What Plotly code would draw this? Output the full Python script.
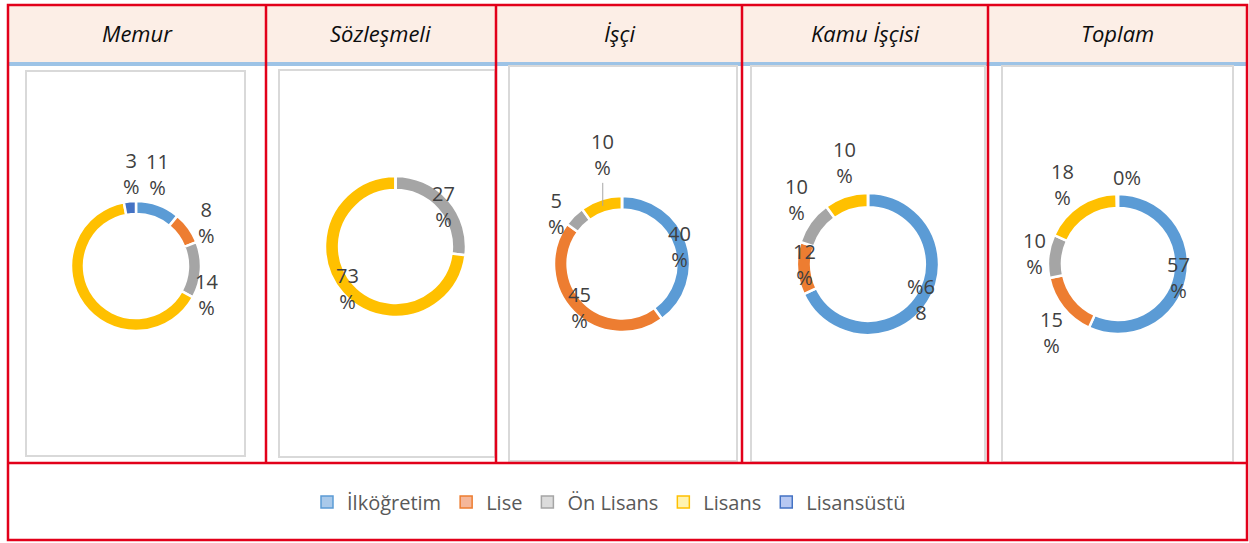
import math
import plotly.graph_objects as go

W, H = 1249, 543

# ---------------- data ----------------
CATEGORIES = ["İlköğretim", "Lise", "Ön Lisans", "Lisans", "Lisansüstü"]
GROUPS = ["Memur", "Sözleşmeli", "İşçi", "Kamu İşçisi", "Toplam"]

MEMUR = [11, 8, 14, 64, 3]
SOZLESMELI = [0, 0, 27, 73, 0]
ISCI = [40, 45, 5, 10, 0]
KAMU_ISCISI = [68, 12, 10, 10, 0]
TOPLAM = [57, 15, 10, 18, 0.3]

SERIES = [MEMUR, SOZLESMELI, ISCI, KAMU_ISCISI, TOPLAM]

# ---------------- style ----------------
SLICE_COLORS = ["#5B9BD5", "#ED7D31", "#A5A5A5", "#FFC000", "#4472C4"]
LEGEND_FILL = ["#A9C9EA", "#F5B79A", "#DCDCDC", "#FFF3B0", "#B7C8F2"]
RED = "#E2001A"
FONT = "Open Sans"

# pie geometry in pixels: centre x, centre y, outer radius
PIE_GEOM = [(136, 266, 65), (395.5, 246.5, 70.5), (622, 264, 68), (868, 264, 71), (1118, 264, 70)]
# chart frames (x0, y0, x1, y1) in pixels
FRAMES = [(26, 71, 245, 456), (279, 70, 495, 457), (509, 66, 737, 461), (751, 66, 985, 462), (1002, 66, 1233, 462)]
COL_EDGES = [8, 266, 496, 742, 988, 1247]
HEADER_BOTTOM = 62
TABLE_TOP = 5
ROW_LINE = 463
TABLE_BOTTOM = 540

# label placement: (mode, radius factor, angle shift in degrees)
HIDE = ("hide", 0, 0)
LABEL_STYLE = [
    [("wrap", 1.45, -6.9), ("wrap", 1.28, 4.2), ("wrap", 1.16, 18.2), HIDE, ("wrap", 1.42, 2.3)],
    [HIDE, HIDE, ("wrap", 0.88, 1.7), ("wrap", 0.90, 0), HIDE],
    [("wrap", 0.89, 0.8), ("wrap", 0.90, -0.7), ("wrap", 1.21, -7.4), ("leader", 1.63, 8), HIDE],
    [("swap", 0.90, 1.8), ("wrap", 0.89, 2.7), ("wrap", 1.35, 6), ("wrap", 1.46, 5), HIDE],
    [("wrap", 0.89, 0.3), ("wrap", 1.37, -7.2), ("wrap", 1.2, 1), ("wrap", 1.38, -1.6), ("inline", 1.24, 6.6)],
]


def X(px):
    return px / W


def Y(py):
    return 1 - py / H


fig = go.Figure()
annotations = []
shapes = []

# header background
shapes.append(dict(type="rect", xref="paper", yref="paper", x0=X(COL_EDGES[0]), x1=X(COL_EDGES[-1]),
                   y0=Y(HEADER_BOTTOM), y1=Y(TABLE_TOP), fillcolor="#FCEEE6", line=dict(width=0), layer="below"))
# blue rule below the header
shapes.append(dict(type="line", xref="paper", yref="paper", x0=X(COL_EDGES[0]), x1=X(COL_EDGES[-1]),
                   y0=Y(HEADER_BOTTOM + 2), y1=Y(HEADER_BOTTOM + 2), line=dict(color="#9DC3E6", width=4)))

# chart frames
for (x0, y0, x1, y1) in FRAMES:
    shapes.append(dict(type="rect", xref="paper", yref="paper", x0=X(x0), x1=X(x1), y0=Y(y1), y1=Y(y0),
                       line=dict(color="#D9D9D9", width=2)))

# red table lines
shapes.append(dict(type="rect", xref="paper", yref="paper", x0=X(COL_EDGES[0]), x1=X(COL_EDGES[-1]),
                   y0=Y(TABLE_BOTTOM), y1=Y(TABLE_TOP), line=dict(color=RED, width=2.5)))
for xe in COL_EDGES[1:-1]:
    shapes.append(dict(type="line", xref="paper", yref="paper", x0=X(xe), x1=X(xe),
                       y0=Y(ROW_LINE), y1=Y(TABLE_TOP), line=dict(color=RED, width=2.5)))
shapes.append(dict(type="line", xref="paper", yref="paper", x0=X(COL_EDGES[0]), x1=X(COL_EDGES[-1]),
                   y0=Y(ROW_LINE), y1=Y(ROW_LINE), line=dict(color=RED, width=2.5)))

# headers
for i, g in enumerate(GROUPS):
    cxh = (COL_EDGES[i] + COL_EDGES[i + 1]) / 2
    annotations.append(dict(xref="paper", yref="paper", x=X(cxh), y=Y(33), text=f"<i>{g}</i>",
                            showarrow=False, xanchor="center", yanchor="middle",
                            font=dict(family=FONT, size=22, color="#0D0D0D")))

# donuts
for i, vals in enumerate(SERIES):
    cx, cy, R = PIE_GEOM[i]
    fig.add_trace(go.Pie(
        values=vals, labels=CATEGORIES, sort=False, direction="clockwise", rotation=0, hole=0.8,
        marker=dict(colors=SLICE_COLORS, line=dict(color="white", width=2.5)),
        textinfo="none", showlegend=False, name=GROUPS[i],
        domain=dict(x=[X(cx - R), X(cx + R)], y=[Y(cy + R), Y(cy - R)]),
    ))
    total = sum(vals)
    cum = 0
    for j, v in enumerate(vals):
        mid = (cum + v / 2) / total * 360
        cum += v
        mode, rf, dth = LABEL_STYLE[i][j]
        if mode == "hide":
            continue
        ang = math.radians(mid + dth)
        lx = cx + rf * R * math.sin(ang)
        ly = cy - rf * R * math.cos(ang)
        s = str(round(v))
        font = dict(family=FONT, size=20, color="#404040")
        if mode == "wrap" or mode == "leader":
            txt = f"{s}<br>%"
        elif mode == "inline":
            txt = f"{s}%"
        else:  # swap: rendering seen in the reference
            txt = f"%{s[0]}<br>{s[1:]}"
        if mode == "leader":
            tip_y = cy - math.sqrt((0.9 * R) ** 2 - (lx - cx) ** 2)
            annotations.append(dict(xref="paper", yref="paper", x=X(lx), y=Y(tip_y), text=txt,
                                    showarrow=True, arrowhead=0, arrowwidth=1, arrowcolor="#A6A6A6",
                                    ax=0, ay=ly - tip_y, font=font))
        else:
            annotations.append(dict(xref="paper", yref="paper", x=X(lx), y=Y(ly), text=txt,
                                    showarrow=False, xanchor="center", yanchor="middle", font=font))

# legend entries
for j, c in enumerate(CATEGORIES):
    fig.add_trace(go.Scatter(
        x=[None], y=[None], mode="markers", name=c, showlegend=True,
        marker=dict(symbol="square", size=12, color=LEGEND_FILL[j],
                    line=dict(color=SLICE_COLORS[j], width=1.5)),
    ))

fig.update_layout(
    width=W, height=H, autosize=False,
    margin=dict(l=0, r=0, t=0, b=0),
    paper_bgcolor="white", plot_bgcolor="white",
    xaxis=dict(visible=False), yaxis=dict(visible=False),
    shapes=shapes, annotations=annotations,
    legend=dict(orientation="h", x=X(609), xanchor="center", y=Y(502), yanchor="middle",
                font=dict(family=FONT, size=20, color="#595959"), bgcolor="rgba(0,0,0,0)",
                itemsizing="trace"),
)

fig.write_html("out.html", config={"displayModeBar": False},
               post_script="document.body.style.margin='0';document.body.style.overflow='hidden';")
